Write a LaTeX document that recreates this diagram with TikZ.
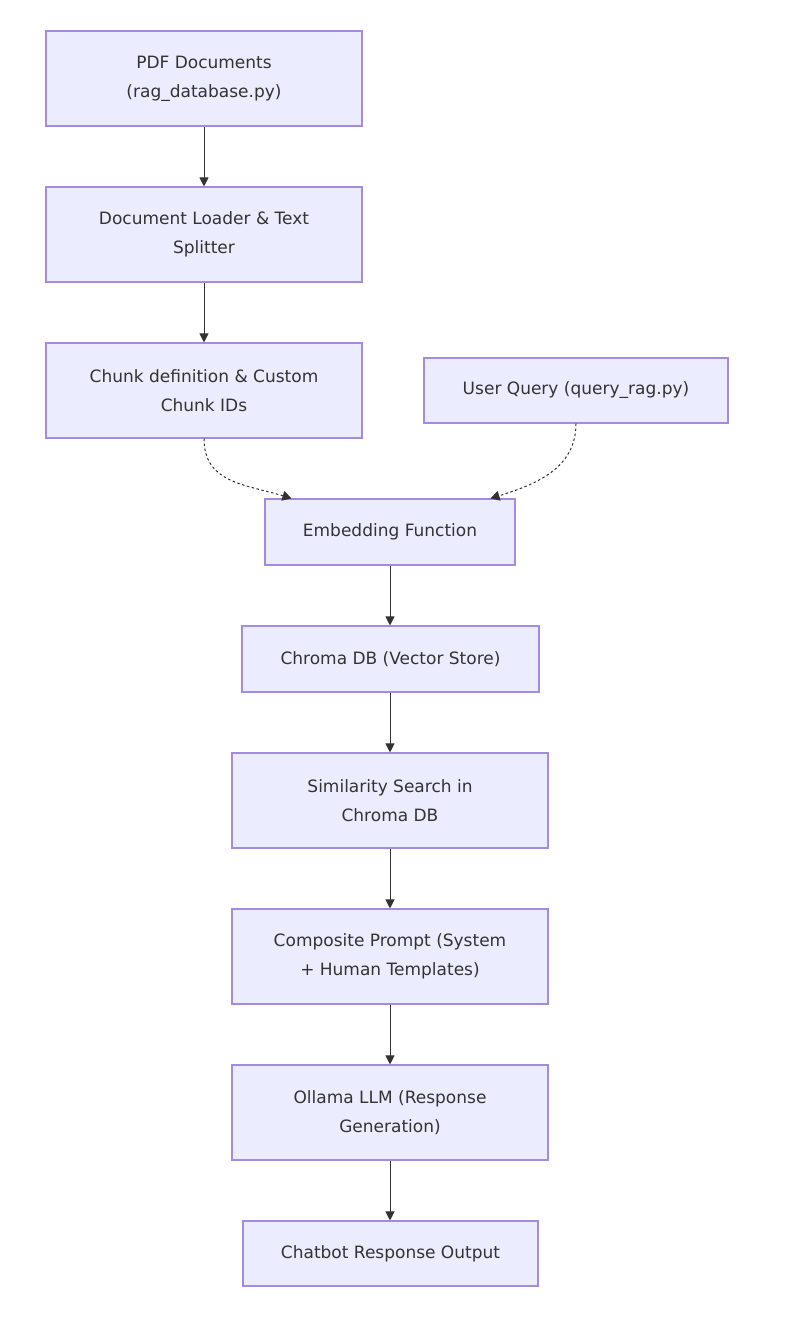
\documentclass[tikz,border=0pt]{standalone}
\usepackage{fontspec}
\setmainfont{DejaVu Sans}
\usetikzlibrary{arrows.meta}
\definecolor{nodefill}{HTML}{ECECFF}
\definecolor{nodeline}{HTML}{A48AE2}
\definecolor{ink}{HTML}{333333}
\tikzset{
  box/.style={draw=nodeline, fill=nodefill, line width=1.1pt, inner sep=0pt,
    align=center, text=ink, font=\fontsize{17}{29}\selectfont},
  flow/.style={draw=ink, line width=1pt, -{Triangle[length=9pt,width=9pt]}},
  dot/.style={draw=ink, line width=1pt, dash pattern=on 2.5pt off 2.5pt, -{Triangle[length=9pt,width=10pt]}}
}
\begin{document}
\begin{tikzpicture}[x=1pt,y=-1pt]
\useasboundingbox (0,0) rectangle (788,1320);
\node[box, minimum width=316pt, minimum height=95pt] (pdf) at (204,78.5) {PDF Documents\\(rag\_database.py)};
\node[box, minimum width=316pt, minimum height=95pt] (load) at (204,234.5) {Document Loader \& Text\\Splitter};
\node[box, minimum width=316pt, minimum height=95pt] (chunk) at (204,390.5) {Chunk definition \& Custom\\Chunk IDs};
\node[box, minimum width=304pt, minimum height=65pt] (query) at (576,390.5) {User Query (query\_rag.py)};
\node[box, minimum width=250pt, minimum height=66pt] (emb) at (390,532) {Embedding Function};
\node[box, minimum width=297pt, minimum height=66pt] (chroma) at (390.5,659) {Chroma DB (Vector Store)};
\node[box, minimum width=316pt, minimum height=95pt] (sim) at (390,800.5) {Similarity Search in\\Chroma DB};
\node[box, minimum width=316pt, minimum height=95pt] (comp) at (390,956.5) {Composite Prompt (System\\+ Human Templates)};
\node[box, minimum width=316pt, minimum height=95pt] (llm) at (390,1112.5) {Ollama LLM (Response\\Generation)};
\node[box, minimum width=295pt, minimum height=65pt] (out) at (390.5,1253.5) {Chatbot Response Output};

\coordinate (eL) at ([xshift=27pt]emb.north west);
\coordinate (eR) at ([xshift=-25pt]emb.north east);

\draw[flow] (pdf.south) -- (load.north);
\draw[flow] (load.south) -- (chunk.north);
\draw[dot] (chunk.south) .. controls ++(0,45) and ++(-45,-14) .. (eL);
\draw[dot] (query.south) .. controls ++(0,45) and ++(45,-14) .. (eR);
\draw[flow] (emb.south) -- (emb.south |- chroma.north);
\draw[flow] (emb.south |- chroma.south) -- (emb.south |- sim.north);
\draw[flow] (sim.south) -- (comp.north);
\draw[flow] (comp.south) -- (llm.north);
\draw[flow] (llm.south) -- (llm.south |- out.north);
\end{tikzpicture}
\end{document}
